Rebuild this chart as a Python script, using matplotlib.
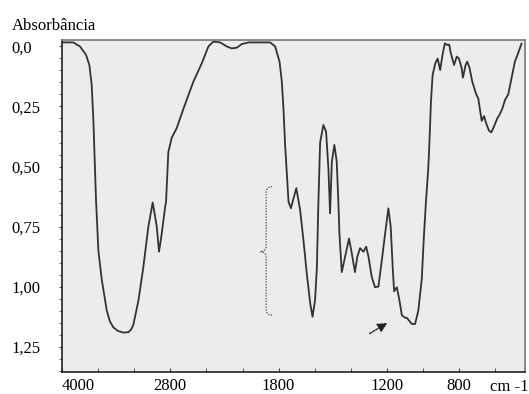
import numpy as np
import matplotlib.pyplot as plt
from matplotlib.path import Path
from matplotlib.patches import PathPatch

# FTIR spectrum (wavenumber in cm-1, absorbance)
wavenumber = [4000, 3875, 3800, 3734, 3697, 3671, 3653, 3634, 3623, 3597, 3560, 3504,
              3470, 3431, 3380, 3320, 3265, 3235, 3210, 3154, 3099, 3043, 2995, 2950,
              2925, 2895, 2858, 2847, 2822, 2784, 2729, 2655, 2545, 2451, 2378, 2323,
              2248, 2174, 2119, 2063, 2008, 1967, 1847, 1819, 1795, 1782, 1773, 1764,
              1754, 1745, 1732, 1702, 1681, 1662, 1644, 1625, 1612, 1598, 1588, 1580,
              1570, 1552, 1537, 1524, 1515, 1505, 1491, 1478, 1469, 1463, 1450, 1432,
              1410, 1395, 1377, 1364, 1349, 1330, 1315, 1302, 1284, 1266, 1247, 1228,
              1210, 1192, 1179, 1168, 1160, 1145, 1131, 1117, 1099, 1090, 1062, 1044,
              1026, 1007, 995, 984, 971, 965, 956, 947, 932, 919, 905, 892,
              879, 864, 855, 846, 828, 813, 801, 786, 779, 764, 755, 742,
              727, 705, 694, 684, 675, 662, 650, 635, 622, 607, 589, 575,
              561, 546, 528, 509, 491, 473, 454]
absorbance = [-0.017, -0.017, 0.0, 0.035, 0.077, 0.16, 0.30, 0.51, 0.64, 0.85, 0.97, 1.10,
              1.145, 1.17, 1.185, 1.192, 1.19, 1.18, 1.16, 1.06, 0.92, 0.75, 0.65, 0.75,
              0.855, 0.78, 0.67, 0.647, 0.44, 0.38, 0.34, 0.26, 0.147, 0.07, 0.0, -0.02,
              -0.017, 0.0, 0.008, 0.005, -0.01, -0.017, -0.017, 0.0, 0.063, 0.147, 0.26, 0.41,
              0.535, 0.647, 0.674, 0.59, 0.68, 0.81, 0.945, 1.07, 1.126, 1.056, 0.92, 0.66,
              0.40, 0.327, 0.355, 0.51, 0.695, 0.48, 0.41, 0.48, 0.647, 0.78, 0.94, 0.876,
              0.80, 0.86, 0.94, 0.876, 0.84, 0.855, 0.834, 0.876, 0.96, 1.003, 1.00, 0.89,
              0.78, 0.674, 0.75, 0.92, 1.02, 1.003, 1.056, 1.12, 1.13, 1.13, 1.156, 1.156,
              1.10, 0.97, 0.79, 0.65, 0.51, 0.41, 0.23, 0.12, 0.07, 0.05, 0.098, 0.035,
              -0.013, -0.006, -0.008, 0.028, 0.077, 0.042, 0.05, 0.09, 0.13, 0.077, 0.063, 0.09,
              0.147, 0.20, 0.216, 0.265, 0.31, 0.29, 0.32, 0.35, 0.358, 0.334, 0.30, 0.283,
              0.26, 0.223, 0.20, 0.13, 0.063, 0.028, -0.013]

x_labeled = [4000, 2800, 1800, 1200, 800]
x_minor = [3600, 3200, 2400, 2000, 1600, 1400, 1000, 600]
y_ticks = [0.0, 0.25, 0.50, 0.75, 1.00, 1.25]
y_labels = ['0,0', '0,25', '0,50', '0,75', '1,00', '1,25']


# axis is compressed 2x above 2000 cm-1
def fwd(w):
    w = np.asarray(w, dtype=float)
    return np.where(w >= 2000, 2000 + (w - 2000) / 2, w)


def inv(v):
    v = np.asarray(v, dtype=float)
    return np.where(v >= 2000, 2000 + 2 * (v - 2000), v)


plt.rcParams['font.family'] = 'Liberation Serif'
plt.rcParams['font.size'] = 12

fig = plt.figure(figsize=(5.29, 3.94), dpi=100)
ax = fig.add_axes([62 / 529, 22 / 394, 463 / 529, 332 / 394])
ax.set_facecolor('#ececec')

ax.plot(wavenumber, absorbance, color='#333333', lw=1.3,
        solid_joinstyle='round', solid_capstyle='round')

ax.set_xscale('function', functions=(fwd, inv))
ax.set_xlim(4000, 435)
ax.set_ylim(1.356, -0.027)

ax.set_xticks(x_labeled)
ax.set_xticks(x_minor, minor=True)
ax.tick_params(axis='x', which='both', direction='in', length=3, pad=4,
               color='#444444')
ax.set_xticklabels([str(v) for v in x_labeled])
ax.get_xticklabels()[0].set_ha('left')

ax.set_yticks(y_ticks)
ax.set_yticks(np.arange(0.0, 1.36, 0.05), minor=True)
ax.set_yticklabels(y_labels)
# labels sit flush-left at the figure margin
ax.tick_params(axis='y', which='both', direction='out', length=2, pad=34.5,
               color='#555555')
for lbl in ax.get_yticklabels():
    lbl.set_ha('left')

for side in ['left', 'bottom']:
    ax.spines[side].set_color('#222222')
    ax.spines[side].set_linewidth(1.2)
for side in ['top', 'right']:
    ax.spines[side].set_color('#777777')
    ax.spines[side].set_linewidth(1.2)

fig.text(12 / 529, 1 - 26 / 394, 'Absorbância', ha='left', va='center', fontsize=12)
fig.text(528 / 529, 1 - 387 / 394, 'cm -1', ha='right', va='center', fontsize=12)

# dotted brace marking the fingerprint band group
verts = [(1836, 0.584), (1869, 0.584), (1869, 0.61),
         (1869, 0.83), (1869, 0.855), (1902, 0.855),
         (1869, 0.855), (1869, 0.88),
         (1869, 1.095), (1869, 1.119), (1836, 1.119)]
codes = [Path.MOVETO, Path.CURVE3, Path.CURVE3,
         Path.LINETO, Path.CURVE3, Path.CURVE3,
         Path.CURVE3, Path.CURVE3,
         Path.LINETO, Path.CURVE3, Path.CURVE3]
ax.add_patch(PathPatch(Path(verts, codes), fill=False, ls=(0, (1, 1)),
                       lw=1.0, ec='#666666'))

ax.annotate('', xy=(1185, 1.146), xytext=(1309, 1.202),
            arrowprops=dict(arrowstyle='-|>', ls=(0, (1.5, 1)), lw=1.0,
                            color='#222222', mutation_scale=14))

fig.savefig('out.png', dpi=100)
